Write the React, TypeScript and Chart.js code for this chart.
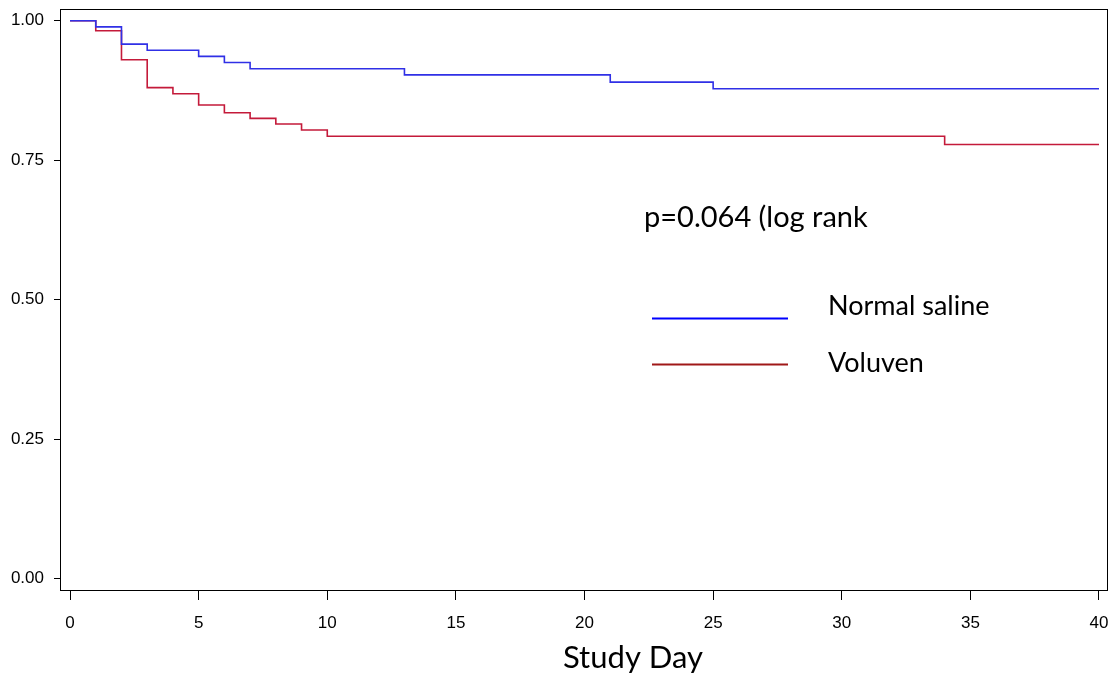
import React, { useEffect, useRef } from "react";
import { Chart, registerables } from "chart.js";

Chart.register(...registerables);

const salineDays = [0, 1, 2, 3, 5, 6, 7, 13, 21, 25, 40];
const salineSurv = [1, 0.989, 0.958, 0.947, 0.936, 0.925, 0.914, 0.903, 0.89, 0.878, 0.878];
const voluvenDays = [0, 1, 2, 3, 4, 5, 6, 7, 8, 9, 10, 34, 40];
const voluvenSurv = [1, 0.982, 0.93, 0.88, 0.869, 0.849, 0.835, 0.825, 0.815, 0.804, 0.793, 0.778, 0.778];
const xTicks = [0, 5, 10, 15, 20, 25, 30, 35, 40];
const yTicks = [0, 0.25, 0.5, 0.75, 1];
const seriesNames = ["Normal saline", "Voluven"];
const pText = "p=0.064 (log rank";
const xTitle = "Study Day";

const CURVE_COLORS = ["#3030e6", "#c41a3a"];
const LEGEND_COLORS = ["#0000ff", "#a01818"];
const FAMILY = 'Lato, "Open Sans", sans-serif';

const annotations = {
  id: "annotations",
  afterDraw(chart: any) {
    const { ctx, chartArea } = chart;
    ctx.save();
    ctx.strokeStyle = "#000";
    ctx.lineWidth = 1;
    ctx.strokeRect(
      Math.round(chartArea.left) + 0.5,
      Math.round(chartArea.top) + 0.5,
      Math.round(chartArea.right - chartArea.left) - 1,
      Math.round(chartArea.bottom - chartArea.top)
    );
    ctx.fillStyle = "#000";
    ctx.textAlign = "left";
    ctx.textBaseline = "alphabetic";
    ctx.font = "29px " + FAMILY;
    ctx.fillText(pText, 644, 227);
    ctx.font = "27px " + FAMILY;
    const legendY = [318, 364];
    const textBase = [315, 372];
    seriesNames.forEach((name, i) => {
      ctx.strokeStyle = LEGEND_COLORS[i];
      ctx.lineWidth = 2;
      ctx.beginPath();
      ctx.moveTo(652, legendY[i] + 0.5);
      ctx.lineTo(788, legendY[i] + 0.5);
      ctx.stroke();
      ctx.fillText(name, 828, textBase[i]);
    });
    ctx.font = "31px " + FAMILY;
    ctx.fillText(xTitle, 563, 668);
    ctx.restore();
  },
};

export default function App() {
  const ref = useRef<HTMLCanvasElement>(null);
  useEffect(() => {
    if (!ref.current) return;
    const mk = (xs: number[], ys: number[]) => xs.map((x, i) => ({ x, y: ys[i] }));
    const chart = new Chart(ref.current, {
      type: "line",
      data: {
        datasets: [
          {
            label: seriesNames[0],
            data: mk(salineDays, salineSurv),
            borderColor: CURVE_COLORS[0],
            borderWidth: 1.6,
            pointRadius: 0,
            stepped: true,
            fill: false,
          },
          {
            label: seriesNames[1],
            data: mk(voluvenDays, voluvenSurv),
            borderColor: CURVE_COLORS[1],
            borderWidth: 1.6,
            pointRadius: 0,
            stepped: true,
            fill: false,
          },
        ],
      },
      options: {
        animation: false,
        responsive: false,
        layout: { padding: { top: 9, right: 2, left: 0, bottom: 0 } },
        plugins: { legend: { display: false }, tooltip: { enabled: false } },
        scales: {
          x: {
            type: "linear",
            min: -0.39,
            max: 40.35,
            afterBuildTicks: (s: any) => {
              s.ticks = xTicks.map((v) => ({ value: v }));
            },
            afterFit: (s: any) => {
              s.height = 83;
              s.paddingLeft = 0;
              s.paddingRight = 0;
            },
            grid: { drawOnChartArea: false, drawTicks: true, tickLength: 10, color: "#000" },
            border: { display: false },
            ticks: {
              color: "#000",
              padding: 13,
              maxRotation: 0,
              font: { family: '"Liberation Sans", Arial, sans-serif', size: 17 },
              callback: (v: any) => String(v),
            },
          },
          y: {
            type: "linear",
            min: -0.0204,
            max: 1.021,
            afterBuildTicks: (s: any) => {
              s.ticks = yTicks.map((v) => ({ value: v }));
            },
            afterFit: (s: any) => {
              s.width = 60;
              s.paddingTop = 0;
              s.paddingBottom = 0;
            },
            grid: { drawOnChartArea: false, drawTicks: true, tickLength: 6, color: "#000" },
            border: { display: false },
            ticks: {
              color: "#000",
              padding: 10,
              font: { family: '"Liberation Sans", Arial, sans-serif', size: 17 },
              callback: (v: any) => Number(v).toFixed(2),
            },
          },
        },
      },
      plugins: [annotations],
    });
    return () => chart.destroy();
  }, []);
  return (
    <div style={{ position: "absolute", left: 0, top: 0, width: 1110, height: 673, background: "#fff" }}>
      <canvas ref={ref} width={1110} height={673} style={{ display: "block" }} />
    </div>
  );
}
